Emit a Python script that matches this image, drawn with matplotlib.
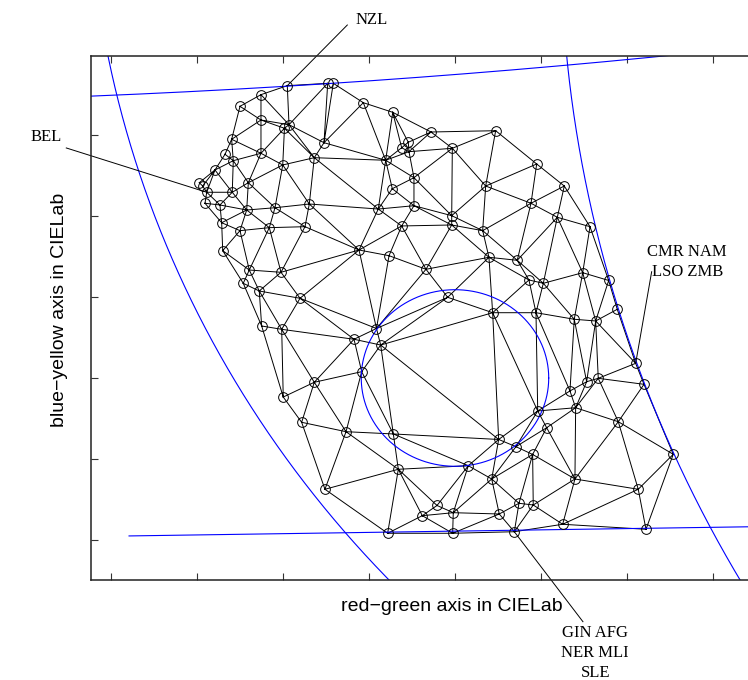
import numpy as np
import matplotlib.pyplot as plt
import matplotlib.tri as mtri

# colour points in CIELab (a* = red-green, b* = blue-yellow)
a_star = np.array([
    -19.50, -14.80, -14.15, -22.56, -25.00, -22.56, -19.83, -19.30, -15.23, -25.97,
    -26.74, -25.78, -22.56, -16.36, -20.03, -27.91, -29.73, -29.34, -28.87, -25.90,
    -24.03, -29.07, -27.33, -24.22, -20.93, -16.94, -27.13, -25.00, -21.59, -17.44,
    -10.66, -7.24, -2.79, 4.73, -5.43, -6.20, -5.35, -0.31, -8.06, 9.50,
    -4.77, 3.57, -7.29, 8.84, -8.92, -4.77, -0.38, -0.38, -6.20, 3.22,
    -11.16, -7.67, -3.37, 3.95, 7.24, 8.60, -27.01, -23.92, -20.23, -24.62,
    -22.76, -18.02, -22.48, -20.15, -11.74, -9.13, -8.64, -10.85, -16.36, -19.97,
    10.27, -0.85, 4.38, 9.42, 9.62, 10.66, -7.17, 5.08, 7.09, 9.03,
    12.71, 11.90, 15.70, 14.85, 17.87, 18.87, 13.87, 16.36, 21.01, 21.98,
    16.66, 15.31, 13.37, 14.03, 18.99, 25.38, 13.95, -17.83, -12.67, -6.59,
    -15.12, -7.83, -3.80, -2.09, 1.55, 4.27, 21.31, -0.20, 5.15, 7.44,
    9.10, 12.52, 22.21, -0.27, 6.90])
b_star = np.array([
    36.09, 36.38, 36.38, 34.98, 33.54, 31.85, 30.83, 31.27, 29.05, 29.47,
    27.62, 26.83, 27.74, 27.20, 26.30, 25.68, 24.11, 23.70, 22.93, 22.93,
    24.11, 21.57, 21.36, 20.74, 21.02, 21.48, 19.17, 18.19, 18.56, 18.68,
    33.99, 32.80, 30.37, 30.53, 29.10, 28.43, 27.94, 28.36, 26.88, 26.42,
    24.73, 23.70, 23.37, 21.57, 20.86, 21.27, 20.04, 18.89, 18.77, 18.19,
    15.80, 15.10, 13.42, 14.90, 14.53, 12.10, 15.72, 13.33, 13.05, 11.69,
    10.74, 9.84, 6.42, 6.01, 4.78, 6.11, 4.07, 0.78, -0.53, -2.35,
    11.69, 9.96, 8.06, 8.06, -4.07, -6.14, -6.91, -7.59, -8.48, -9.44,
    23.70, 19.84, 18.68, 13.00, 12.04, 8.48, 7.25, 7.04, 1.81, -0.78,
    -0.04, -0.46, -1.60, -3.67, -5.40, -9.42, -12.47, -5.47, -6.63, -11.27,
    -13.74, -19.17, -17.00, -15.74, -10.83, -12.47, -13.74, -16.63, -16.79, -15.47,
    -15.68, -18.06, -18.68, -19.17, -18.98])

# blue guide circles (centre a*, centre b*, radius)
circle_a = [89.75, 174.8, 0.0, -88.6]
circle_b = [64.87, 54.7, 0.0, 1106.8]
circle_r = [132.5, 162.5, 10.9, 1073.0]

# straight blue guide near the bottom
line_a = [-37.9, 45.0]
line_b = [-19.5, -18.2]

# country labels: point index, end of leader line, text position
label_text = ['NZL', 'BEL', 'CMR NAM\nLSO ZMB', 'GIN AFG\nNER MLI\nSLE']
label_idx = [0, 18, 88, 114]
leader_a = [-12.52, -45.2, 22.87, 14.88]
leader_b = [43.58, 28.4, 13.12, -30.09]
text_a = [-11.6, -45.7, 27.0, 16.3]
text_b = [44.2, 29.75, 14.3, -30.5]
text_ha = ['left', 'right', 'center', 'center']
text_va = ['center', 'center', 'center', 'top']

W, H = 748, 680
fig = plt.figure(figsize=(W / 100, H / 100), dpi=100)
ax = fig.add_axes([90.7 / W, 100 / H, 721.6 / W, 524.3 / H])

theta = np.linspace(0, 2 * np.pi, 200001)
for ca, cb, r in zip(circle_a, circle_b, circle_r):
    ax.plot(ca + r * np.cos(theta), cb + r * np.sin(theta), color='#0000ff', lw=0.8)
ax.plot(line_a, line_b, color='#0000ff', lw=0.8)

# Delaunay mesh, dropping the flat slivers along the border
tri = mtri.Triangulation(a_star, b_star)
tri.set_mask(mtri.TriAnalyzer(tri).get_flat_tri_mask(min_circle_ratio=0.15))
ax.triplot(tri, color='k', lw=0.7)
ax.plot(a_star, b_star, 'o', mfc='none', mec='k', ms=7, mew=0.7)

serif = ['Liberation Serif', 'DejaVu Serif']
for i in range(len(label_text)):
    k = label_idx[i]
    ax.plot([a_star[k], leader_a[i]], [b_star[k], leader_b[i]], color='k', lw=0.7, clip_on=False)
    ax.text(text_a[i], text_b[i], label_text[i], ha=text_ha[i], va=text_va[i],
            family=serif, fontsize=12, linespacing=1.35, multialignment='center')

ax.set_xlim(-42.36, 41.55)
ax.set_ylim(-24.94, 39.79)
ax.set_xticks(np.arange(-40, 41, 10))
ax.set_yticks(np.arange(-20, 31, 10))
ax.tick_params(direction='in', length=5, width=0.8, top=True, right=True,
               labelbottom=False, labelleft=False, color='#333333')
for s in ax.spines.values():
    s.set_linewidth(1.1)
    s.set_color('#222222')

sans = ['Liberation Sans', 'DejaVu Sans']
ax.set_xlabel('red\u2212green axis in CIELab', family=sans, fontsize=14)
ax.set_ylabel('blue\u2212yellow axis in CIELab', family=sans, fontsize=14)
ax.xaxis.set_label_coords(0.5, -0.035)
ax.yaxis.set_label_coords(-0.032, 0.515)

fig.savefig('out.png', dpi=100)
